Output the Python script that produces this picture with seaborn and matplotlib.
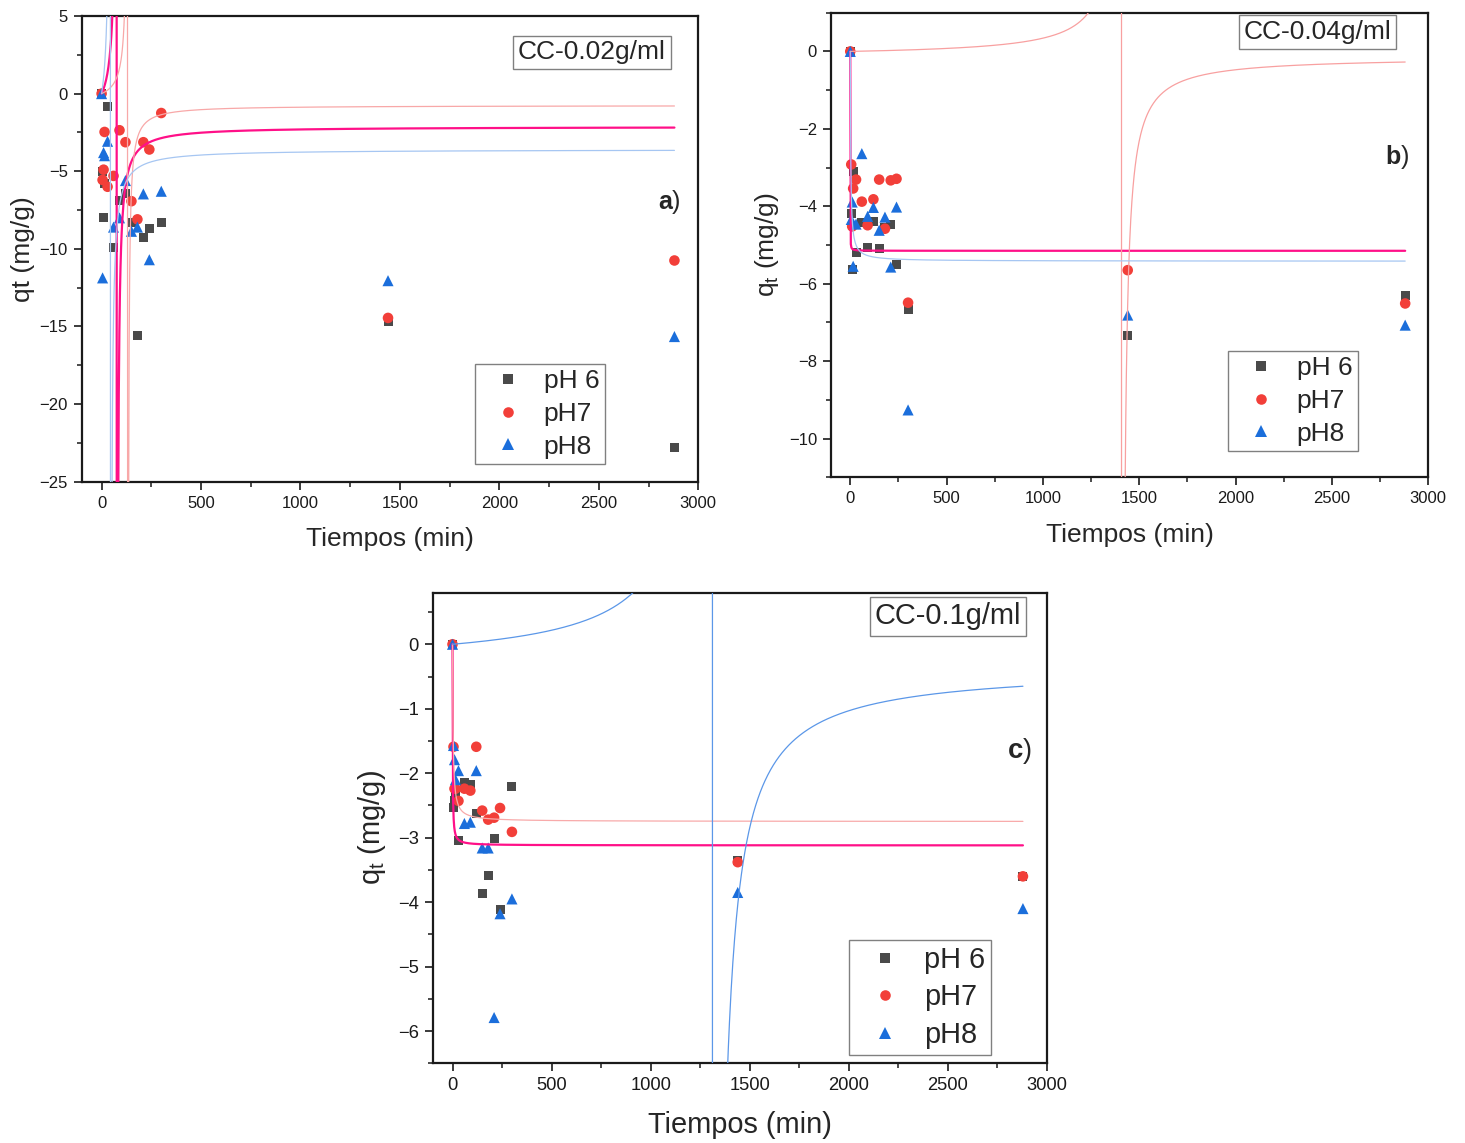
import numpy as np
import pandas as pd
import matplotlib
matplotlib.use("Agg")
import matplotlib.pyplot as plt
from matplotlib.ticker import MultipleLocator
import seaborn as sns

# ---------------------------------------------------------------- data
# sampling times (min)
tiempos = [0, 5, 10, 15, 30, 60, 90, 120, 150, 180, 210, 240, 300, 1440, 2880]
series = ["pH 6", "pH7", "pH8"]

# a) CC-0.02 g/ml
qt_a_ph6 = [0, -5.0, -8.0, -5.8, -0.8, -9.9, -6.9, -6.46, -8.3, -15.56, -9.3, -8.7, -8.3, -14.7, -22.8]
qt_a_ph7 = [0, -5.56, -4.9, -2.47, -6.0, -5.3, -2.36, -3.13, -6.93, -8.1, -3.13, -3.6, -1.25, -14.45, -10.75]
qt_a_ph8 = [0, -11.87, -3.8, -4.0, -3.07, -8.6, -8.0, -5.6, -8.87, -8.6, -6.46, -10.7, -6.29, -12.05, -15.65]

# b) CC-0.04 g/ml
qt_b_ph6 = [0, -4.18, -5.63, -3.11, -5.2, -4.42, -5.06, -4.40, -5.08, -4.55, -4.46, -5.51, -6.67, -7.35, -6.3]
qt_b_ph7 = [0, -2.92, -4.52, -3.54, -3.31, -3.88, -4.49, -3.82, -3.31, -4.58, -3.33, -3.29, -6.49, -5.65, -6.51]
qt_b_ph8 = [0, -4.34, -3.89, -5.55, -4.46, -2.64, -4.26, -4.03, -4.62, -4.28, -5.57, -4.02, -9.26, -6.81, -7.07]

# c) CC-0.1 g/ml
qt_c_ph6 = [0, -2.53, -2.42, -2.33, -3.04, -2.15, -2.17, -2.63, -3.87, -3.58, -3.02, -4.11, -2.2, -3.36, -3.6]
qt_c_ph7 = [0, -1.59, -2.24, -2.24, -2.43, -2.24, -2.27, -1.59, -2.58, -2.72, -2.69, -2.54, -2.91, -3.38, -3.6]
qt_c_ph8 = [0, -1.57, -1.79, -2.10, -1.96, -2.78, -2.76, -1.96, -3.16, -3.16, -5.79, -4.18, -3.95, -3.85, -4.10]

# pseudo-second-order fit parameters (qe in mg/g, k in g/(mg*min)), order pH 6, pH7, pH8
qe_a = [-2.13, -0.76, -3.60]
k_a = [0.00610, 0.00997, 0.00617]
qe_b = [-5.15, -0.14, -5.42]
k_b = [-1.94, 0.00507, -0.0738]
qe_c = [-3.12, -2.75, -0.354]
k_c = [-0.368, -0.1212, 0.00215]

panel_titles = ["CC-0.02g/ml", "CC-0.04g/ml", "CC-0.1g/ml"]
panel_letters = ["a", "b", "c"]
x_ticks = [0, 500, 1000, 1500, 2000, 2500, 3000]

# ---------------------------------------------------------------- style
sns.set_style("ticks")
plt.rcParams["font.family"] = ["Liberation Sans", "DejaVu Sans"]
plt.rcParams["mathtext.fontset"] = "custom"
plt.rcParams["mathtext.rm"] = "Liberation Sans"
plt.rcParams["mathtext.it"] = "Liberation Sans:italic"
plt.rcParams["mathtext.bf"] = "Liberation Sans:bold"

marker_colors = {"pH 6": "#4a4a4a", "pH7": "#f23f39", "pH8": "#1b6edb"}
marker_shapes = {"pH 6": "s", "pH7": "o", "pH8": "^"}
marker_sizes = {"pH 6": 42, "pH7": 58, "pH8": 64}

W, H = 1465, 1143
fig = plt.figure(figsize=(W / 100, H / 100), dpi=100)


def px_axes(left, top, right, bottom):
    return fig.add_axes([left / W, 1 - bottom / H, (right - left) / W, (bottom - top) / H])


def fx(x):
    return x / W


def fy(y):
    return 1 - y / H


def pso(t, qe, k):
    return k * qe ** 2 * t / (1 + k * qe * t)


panels = [
    dict(ax=px_axes(81.7, 16, 698.3, 481.7),
         data=[qt_a_ph6, qt_a_ph7, qt_a_ph8], qe=qe_a, k=k_a,
         ylim=(-25, 5), ymaj=5, ymin=2.5, ylabel="qt (mg/g)", ylabelpad=3,
         fit_colors=["#ff1088", "#f8a8a8", "#a6c6f2"], scale=1.0,
         legend_xy=(475, 364), title_xy=(592, 52.5), letter_xy=(669, 202)),
    dict(ax=px_axes(831, 12.7, 1428.3, 477.3),
         data=[qt_b_ph6, qt_b_ph7, qt_b_ph8], qe=qe_b, k=k_b,
         ylim=(-11, 1), ymaj=2, ymin=1, ylabel=r"q$_\mathrm{t}$ (mg/g)", ylabelpad=6,
         fit_colors=["#ff1088", "#f8a0a0", "#a6c6f2"], scale=1.0,
         legend_xy=(1228, 351), title_xy=(1317.5, 32), letter_xy=(1397.5, 157)),
    dict(ax=px_axes(432.7, 592.7, 1046.7, 1063.3),
         data=[qt_c_ph6, qt_c_ph7, qt_c_ph8], qe=qe_c, k=k_c,
         ylim=(-6.5, 0.8), ymaj=1, ymin=0.5, ylabel=r"q$_\mathrm{t}$ (mg/g)", ylabelpad=7,
         fit_colors=["#ff1088", "#f8aaaa", "#5b97e8"], scale=1.1,
         legend_xy=(849, 940), title_xy=(948, 616.5), letter_xy=(1019, 751)),
]

t_fit = np.linspace(0, 2880, 1000)

for p, title, letter in zip(panels, panel_titles, panel_letters):
    ax = p["ax"]
    s = p["scale"]

    df = pd.concat(
        [pd.DataFrame({"Tiempo": tiempos, "qt": vals, "pH": name})
         for name, vals in zip(series, p["data"])],
        ignore_index=True,
    )
    sns.scatterplot(data=df, x="Tiempo", y="qt", hue="pH", style="pH", size="pH",
                    hue_order=series, style_order=series, size_order=series,
                    palette=marker_colors, markers=marker_shapes, sizes=marker_sizes,
                    linewidth=0, ax=ax, zorder=2, legend="full")

    # fitted kinetic curves
    for qe, k, col in zip(p["qe"], p["k"], p["fit_colors"]):
        lw = 1.6 if col == "#ff1088" else 0.9
        sns.lineplot(x=t_fit, y=pso(t_fit, qe, k), ax=ax, color=col, lw=lw,
                     estimator=None, sort=False, legend=False, zorder=3)

    ax.set_xlim(-100, 3000)
    ax.set_ylim(*p["ylim"])
    ax.set_xticks(x_ticks)
    ax.xaxis.set_minor_locator(MultipleLocator(250))
    ax.yaxis.set_major_locator(MultipleLocator(p["ymaj"]))
    ax.yaxis.set_minor_locator(MultipleLocator(p["ymin"]))
    ax.tick_params(which="major", direction="out", length=6, width=1.2,
                   labelsize=12 * s, pad=4, colors="#1a1a1a", top=False, right=False)
    ax.tick_params(which="minor", direction="out", length=3.5, width=1.1,
                   top=False, right=False, colors="#1a1a1a")
    for sp in ax.spines.values():
        sp.set_visible(True)
        sp.set_linewidth(1.6)
        sp.set_color("#1a1a1a")

    ax.set_xlabel("Tiempos (min)", fontsize=19 * s, labelpad=12)
    ax.set_ylabel(p["ylabel"], fontsize=19 * s, labelpad=p["ylabelpad"])

    handles, labels = ax.get_legend_handles_labels()
    keep = [(h, l) for h, l in zip(handles, labels) if l in series]
    ax.legend([h for h, _ in keep], [l for _, l in keep],
              loc="upper left", bbox_to_anchor=(fx(p["legend_xy"][0]), fy(p["legend_xy"][1])),
              bbox_transform=fig.transFigure, borderaxespad=0, frameon=True,
              fancybox=False, framealpha=1, edgecolor="#808080", fontsize=19 * s,
              borderpad=0.2, labelspacing=0.33, handlelength=2.1, handletextpad=0.3)
    ax.get_legend().get_frame().set_linewidth(1.0)

    fig.text(fx(p["title_xy"][0]), fy(p["title_xy"][1]), title, ha="center", va="center",
             fontsize=19 * s,
             bbox=dict(boxstyle="square,pad=0.18", fc="white", ec="#808080", lw=1.0))
    fig.text(fx(p["letter_xy"][0]), fy(p["letter_xy"][1]), r"$\mathbf{%s}$)" % letter,
             ha="center", va="center", fontsize=18 * s)

fig.savefig("out.png", dpi=100, facecolor="white")
